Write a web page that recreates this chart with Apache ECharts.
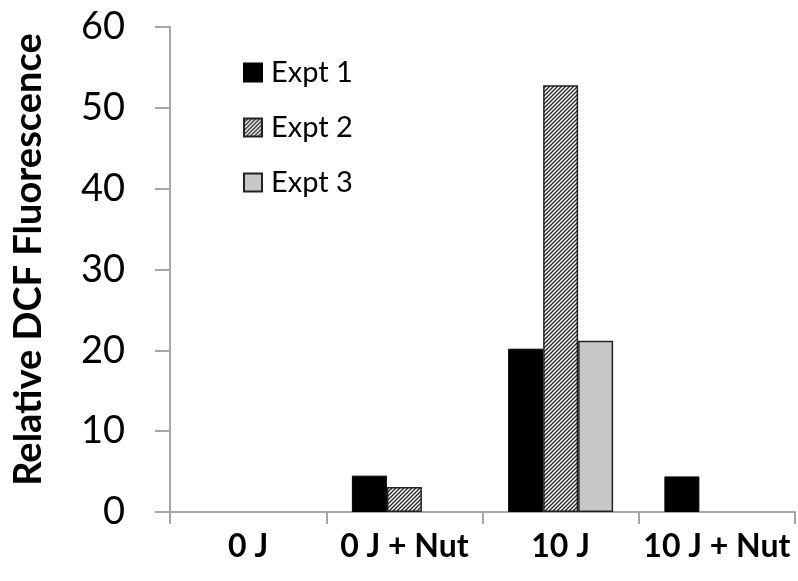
<!DOCTYPE html>
<html>
<head>
<meta charset="utf-8">
<script src="https://cdn.jsdelivr.net/npm/echarts@6/dist/echarts.min.js"></script>
<style>html,body{margin:0;padding:0;background:#fff}#c{width:798px;height:581px}</style>
</head>
<body>
<div id="c"></div>
<script>
const categories = ['0 J', '0 J + Nut', '10 J', '10 J + Nut'];
const expt1 = [0, 4.5, 20.2, 4.4];
const expt2 = [0, 3.1, 52.8, 0];
const expt3 = [0, 0, 21.2, 0];
const yTicks = [0, 10, 20, 30, 40, 50, 60];

function hatch() {
  const s = 4;
  const c = document.createElement('canvas');
  c.width = s; c.height = s;
  const g = c.getContext('2d');
  g.fillStyle = '#fff'; g.fillRect(0, 0, s, s);
  g.strokeStyle = '#222'; g.lineWidth = 1.3;
  g.beginPath();
  g.moveTo(-1, s + 1); g.lineTo(s + 1, -1);
  g.moveTo(-1, 1); g.lineTo(1, -1);
  g.moveTo(s - 1, s + 1); g.lineTo(s + 1, s - 1);
  g.stroke();
  return c;
}

const font = 'Lato, "Open Sans", sans-serif';
const axisGray = '#a6a6a6';
const chart = echarts.init(document.getElementById('c'), null, {renderer: 'canvas'});
const zeroNull = v => (v === 0 ? null : v);

chart.setOption({
  animation: false,
  backgroundColor: '#fff',
  grid: {left: 170, right: 3, top: 27, bottom: 69},
  legend: {
    orient: 'vertical', left: 238, top: 53, itemWidth: 18, itemHeight: 18, itemGap: 26,
    icon: 'rect',
    textStyle: {fontFamily: font, fontSize: 29, color: '#000', padding: [0, 0, 0, 4]},
    data: ['Expt 1', 'Expt 2', 'Expt 3']
  },
  xAxis: {
    type: 'category', data: categories,
    axisLine: {lineStyle: {color: axisGray, width: 2}},
    axisTick: {show: true, length: 12, lineStyle: {color: axisGray, width: 2}},
    axisLabel: {interval: 0, fontFamily: font, fontWeight: 'bold', fontSize: 32, color: '#000', margin: 19}
  },
  yAxis: {
    type: 'value', min: yTicks[0], max: yTicks[yTicks.length - 1], interval: 10,
    name: 'Relative DCF Fluorescence', nameLocation: 'middle', nameGap: 122,
    nameTextStyle: {fontFamily: font, fontWeight: 'bold', fontSize: 38, color: '#000', padding: [0, 0, 0, 20]},
    splitLine: {show: false},
    axisLine: {show: true, lineStyle: {color: axisGray, width: 2}},
    axisTick: {show: true, length: 15, lineStyle: {color: axisGray, width: 2}},
    axisLabel: {fontFamily: font, fontSize: 38, color: '#000', margin: 45}
  },
  series: [
    {name: 'Expt 1', type: 'bar', data: expt1.map(zeroNull), barWidth: 35, barGap: '0%',
     itemStyle: {color: '#000', borderColor: '#000', borderWidth: 1}},
    {name: 'Expt 2', type: 'bar', data: expt2.map(zeroNull), barWidth: 35, barGap: '0%',
     itemStyle: {color: {image: hatch(), repeat: 'repeat'}, borderColor: '#222', borderWidth: 1.5}},
    {name: 'Expt 3', type: 'bar', data: expt3.map(zeroNull), barWidth: 35, barGap: '0%',
     itemStyle: {color: '#c8c8c8', borderColor: '#222', borderWidth: 1.5}}
  ]
});
</script>
</body>
</html>
